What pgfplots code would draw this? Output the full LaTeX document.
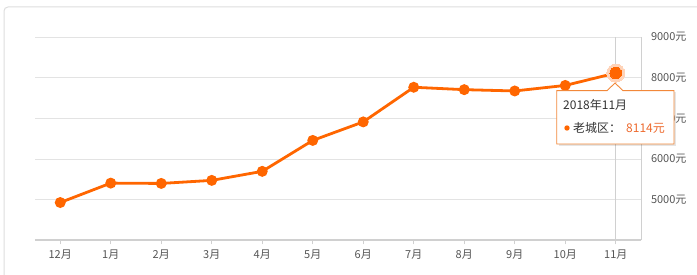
\documentclass[border=0pt]{standalone}
\usepackage{pgfplots}
\pgfplotsset{compat=1.18}
\usepackage{fontspec}
\setmainfont{Noto Sans CJK SC}
\definecolor{lineor}{HTML}{FF6600}
\definecolor{halo}{HTML}{FFD3B8}
\definecolor{tipor}{HTML}{F2883A}
\definecolor{valor}{HTML}{EE6A2E}
\definecolor{gridc}{HTML}{E3E3E3}
\definecolor{axc}{HTML}{D0D0D0}
\definecolor{labc}{HTML}{555555}
\definecolor{panel}{HTML}{DDDDDD}
\begin{document}
\begin{tikzpicture}
\useasboundingbox (0pt,0pt) rectangle (697pt,275pt);
\draw[panel, line width=1pt, rounded corners=4pt] (4pt,-20pt) rectangle (730pt,268pt);
\begin{axis}[
  at={(35pt,34.5pt)}, anchor=south west,
  scale only axis, width=606pt, height=203.5pt,
  xmin=-0.5, xmax=11.5, ymin=4000, ymax=9000,
  axis x line*=bottom, axis y line*=right,
  x axis line style={draw=axc, line width=2pt},
  y axis line style={draw=axc, line width=0.8pt},
  xtick={0,...,11},
  xticklabels={12月,1月,2月,3月,4月,5月,6月,7月,8月,9月,10月,11月},
  ytick={5000,6000,7000,8000,9000},
  yticklabels={5000元,6000元,7000元,8000元,9000元},
  xtick align=outside,
  major tick length=4pt,
  x tick style={draw=axc, line width=0.8pt},
  y tick style={draw=none},
  ymajorgrids, grid style={draw=gridc, line width=0.8pt},
  ticklabel style={font=\fontsize{11}{13}\selectfont, text=labc},
  xticklabel style={yshift=-2pt},
  yticklabel style={anchor=west, xshift=6.5pt},
  clip=false,
]
\draw[axc, line width=0.8pt] (axis cs:11,4000) -- (axis cs:11,9000);
\addplot[color=lineor, line width=2.8pt, mark=*, mark size=4pt, mark options={fill=lineor, draw=lineor}]
  coordinates {(0,4933) (1,5410) (2,5402) (3,5477) (4,5699) (5,6459) (6,6914) (7,7765) (8,7706) (9,7674) (10,7810) (11,8114)};
\addplot[color=halo, only marks, mark=*, mark size=9pt, mark options={fill=halo, draw=halo, line width=0pt}] coordinates {(11,8114)};
\addplot[color=lineor, only marks, mark=*, mark size=5.8pt, mark options={fill=lineor, draw=lineor, line width=0pt}] coordinates {(11,8114)};
\end{axis}
% tooltip
\fill[black, opacity=0.10] (558.5pt,129pt) -- (558.5pt,182.5pt) -- (676pt,182.5pt) -- (676pt,129pt) -- cycle;
\draw[tipor, line width=0.9pt, fill=white] (556.7pt,131pt) -- (556.7pt,184.3pt) -- (607pt,184.3pt) -- (615pt,192pt) -- (623pt,184.3pt) -- (674pt,184.3pt) -- (674pt,131pt) -- cycle;
\node[anchor=west, inner sep=0pt, text=black!80, font=\fontsize{12}{14}\selectfont] at (563pt,170pt) {2018年11月};
\fill[lineor] (567pt,147pt) circle (2.7pt);
\node[anchor=west, inner sep=0pt, text=black!80, font=\fontsize{12}{14}\selectfont] at (573pt,147pt) {老城区：};
\node[anchor=west, inner sep=0pt, text=valor, font=\fontsize{12}{14}\selectfont] at (626pt,147pt) {8114元};
\end{tikzpicture}
\end{document}
